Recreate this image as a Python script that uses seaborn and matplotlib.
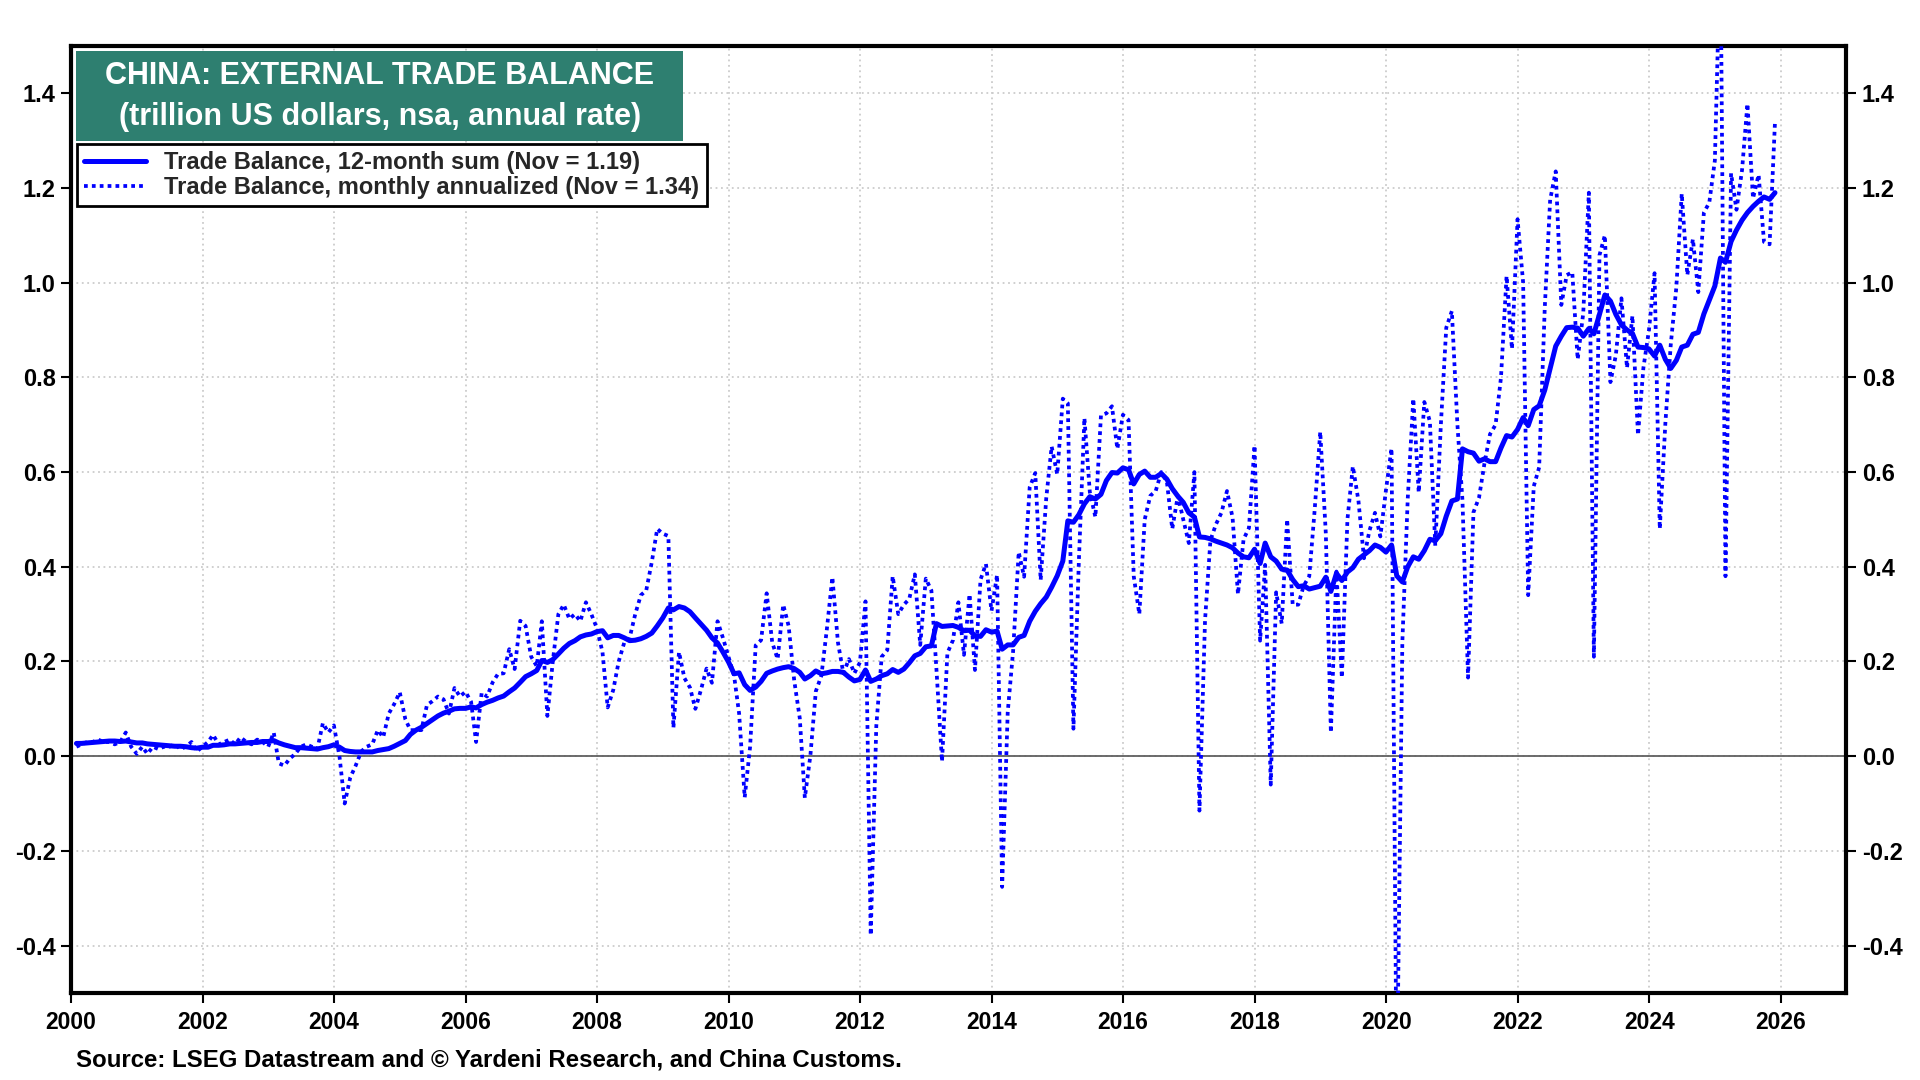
import numpy as np
import pandas as pd
import matplotlib
matplotlib.use("Agg")
import matplotlib.pyplot as plt
import matplotlib.dates as mdates
from matplotlib.patches import Rectangle
from matplotlib.ticker import FuncFormatter, FixedLocator
import seaborn as sns

# ---------------- data (trillion US dollars, annual rate) ----------------
# Monthly trade balance, annualized, Jan 2000 .. Nov 2025
monthly_annualized = [
    0.020, 0.025, 0.030, 0.030, 0.035, 0.030, 0.030, 0.025, 0.030, 0.050, 0.020, 0.005,   # 2000
    0.020, 0.005, 0.020, 0.015, 0.020, 0.020, 0.025, 0.015, 0.020, 0.030, 0.010, 0.020,   # 2001
    0.030, 0.045, 0.025, 0.030, 0.035, 0.025, 0.040, 0.030, 0.025, 0.035, 0.030, 0.020,   # 2002
    0.050, -0.015, -0.020, -0.005, 0.005, 0.020, 0.025, 0.020, 0.015, 0.070, 0.050, 0.065,  # 2003
    0.000, -0.100, -0.045, -0.020, 0.010, 0.020, 0.025, 0.055, 0.040, 0.090, 0.110, 0.135,  # 2004
    0.078, 0.055, 0.055, 0.055, 0.108, 0.116, 0.126, 0.120, 0.090, 0.144, 0.126, 0.136,   # 2005
    0.115, 0.030, 0.134, 0.126, 0.156, 0.174, 0.175, 0.226, 0.184, 0.286, 0.275, 0.210,   # 2006
    0.190, 0.285, 0.085, 0.200, 0.300, 0.320, 0.290, 0.300, 0.285, 0.325, 0.300, 0.270,   # 2007
    0.220, 0.103, 0.140, 0.200, 0.240, 0.250, 0.300, 0.340, 0.350, 0.410, 0.480, 0.470,   # 2008
    0.465, 0.060, 0.220, 0.165, 0.145, 0.100, 0.140, 0.185, 0.155, 0.285, 0.250, 0.210,   # 2009
    0.170, 0.090, -0.087, 0.020, 0.234, 0.245, 0.344, 0.240, 0.205, 0.320, 0.275, 0.160,  # 2010
    0.080, -0.088, 0.002, 0.137, 0.170, 0.267, 0.378, 0.240, 0.175, 0.205, 0.175, 0.198,  # 2011
    0.327, -0.378, 0.064, 0.210, 0.224, 0.380, 0.300, 0.320, 0.332, 0.384, 0.235, 0.375,  # 2012
    0.350, 0.184, -0.011, 0.218, 0.245, 0.325, 0.214, 0.342, 0.182, 0.373, 0.406, 0.307,  # 2013
    0.383, -0.276, 0.093, 0.222, 0.431, 0.379, 0.568, 0.598, 0.372, 0.545, 0.654, 0.595,  # 2014
    0.755, 0.745, 0.058, 0.410, 0.714, 0.558, 0.505, 0.720, 0.724, 0.739, 0.649, 0.721,   # 2015
    0.710, 0.380, 0.300, 0.500, 0.550, 0.560, 0.600, 0.580, 0.480, 0.550, 0.500, 0.450,   # 2016
    0.600, -0.115, 0.287, 0.456, 0.490, 0.514, 0.560, 0.504, 0.342, 0.458, 0.482, 0.656,  # 2017
    0.244, 0.404, -0.060, 0.346, 0.280, 0.500, 0.320, 0.320, 0.360, 0.380, 0.520, 0.685,  # 2018
    0.470, 0.050, 0.390, 0.166, 0.500, 0.612, 0.540, 0.418, 0.476, 0.514, 0.464, 0.562,   # 2019
    0.650, -0.730, 0.240, 0.544, 0.755, 0.557, 0.748, 0.707, 0.444, 0.700, 0.905, 0.940,  # 2020
    0.700, 0.540, 0.166, 0.515, 0.546, 0.618, 0.680, 0.700, 0.800, 1.014, 0.860, 1.134,   # 2021
    1.000, 0.340, 0.570, 0.610, 0.946, 1.175, 1.235, 0.953, 1.016, 1.022, 0.838, 0.936,   # 2022
    1.190, 0.210, 1.058, 1.100, 0.790, 0.847, 0.967, 0.820, 0.930, 0.678, 0.820, 0.900,   # 2023
    1.020, 0.480, 0.703, 0.869, 0.990, 1.188, 1.016, 1.092, 0.980, 1.148, 1.169, 1.258,   # 2024
    1.720, 0.380, 1.231, 1.154, 1.238, 1.378, 1.178, 1.228, 1.086, 1.081, 1.340,          # 2025
]

# 12-month sum, Jan 2000 .. Nov 2025
sum_12m = [
    0.027, 0.027, 0.028, 0.029, 0.030, 0.031, 0.032, 0.032, 0.031, 0.032, 0.030, 0.028,   # 2000
    0.028, 0.026, 0.025, 0.024, 0.023, 0.022, 0.021, 0.021, 0.020, 0.018, 0.017, 0.019,   # 2001
    0.019, 0.023, 0.023, 0.024, 0.026, 0.026, 0.027, 0.028, 0.029, 0.029, 0.031, 0.031,   # 2002
    0.033, 0.028, 0.024, 0.021, 0.018, 0.018, 0.017, 0.016, 0.015, 0.018, 0.020, 0.024,   # 2003
    0.019, 0.012, 0.010, 0.009, 0.009, 0.009, 0.009, 0.012, 0.014, 0.016, 0.021, 0.027,   # 2004
    0.033, 0.046, 0.055, 0.061, 0.069, 0.077, 0.085, 0.091, 0.095, 0.100, 0.101, 0.101,   # 2005
    0.104, 0.102, 0.109, 0.114, 0.118, 0.123, 0.127, 0.136, 0.144, 0.156, 0.168, 0.174,   # 2006
    0.181, 0.202, 0.198, 0.204, 0.216, 0.228, 0.238, 0.244, 0.252, 0.256, 0.258, 0.263,   # 2007
    0.265, 0.250, 0.255, 0.255, 0.250, 0.244, 0.245, 0.248, 0.253, 0.260, 0.275, 0.292,   # 2008
    0.313, 0.309, 0.316, 0.313, 0.305, 0.292, 0.279, 0.266, 0.250, 0.239, 0.220, 0.199,   # 2009
    0.174, 0.176, 0.151, 0.139, 0.146, 0.158, 0.175, 0.180, 0.184, 0.187, 0.189, 0.185,   # 2010
    0.177, 0.163, 0.170, 0.180, 0.174, 0.176, 0.179, 0.179, 0.177, 0.167, 0.159, 0.162,   # 2011
    0.182, 0.158, 0.163, 0.170, 0.174, 0.183, 0.177, 0.184, 0.197, 0.212, 0.217, 0.231,   # 2012
    0.233, 0.280, 0.274, 0.275, 0.276, 0.272, 0.265, 0.266, 0.254, 0.253, 0.267, 0.262,   # 2013
    0.264, 0.226, 0.235, 0.235, 0.251, 0.255, 0.285, 0.306, 0.322, 0.336, 0.357, 0.381,   # 2014
    0.412, 0.497, 0.494, 0.510, 0.533, 0.548, 0.543, 0.553, 0.582, 0.599, 0.598, 0.609,   # 2015
    0.605, 0.575, 0.595, 0.602, 0.589, 0.589, 0.597, 0.585, 0.565, 0.549, 0.536, 0.514,   # 2016
    0.505, 0.463, 0.462, 0.459, 0.454, 0.450, 0.446, 0.440, 0.429, 0.421, 0.419, 0.437,   # 2017
    0.407, 0.450, 0.421, 0.412, 0.395, 0.393, 0.373, 0.358, 0.360, 0.353, 0.356, 0.359,   # 2018
    0.378, 0.348, 0.386, 0.371, 0.389, 0.398, 0.416, 0.425, 0.434, 0.446, 0.441, 0.431,   # 2019
    0.446, 0.381, 0.368, 0.400, 0.421, 0.416, 0.434, 0.458, 0.455, 0.470, 0.507, 0.539,   # 2020
    0.543, 0.649, 0.643, 0.640, 0.623, 0.628, 0.622, 0.622, 0.651, 0.677, 0.674, 0.690,   # 2021
    0.715, 0.698, 0.732, 0.740, 0.773, 0.819, 0.866, 0.887, 0.905, 0.906, 0.904, 0.887,   # 2022
    0.903, 0.892, 0.933, 0.974, 0.961, 0.933, 0.911, 0.900, 0.893, 0.864, 0.863, 0.860,   # 2023
    0.845, 0.868, 0.838, 0.819, 0.836, 0.864, 0.868, 0.891, 0.895, 0.934, 0.963, 0.993,   # 2024
    1.052, 1.043, 1.087, 1.111, 1.132, 1.148, 1.161, 1.172, 1.181, 1.176, 1.190,          # 2025
]

first_month_end = "2000-01-31"
y_ticks = [-0.4, -0.2, 0.0, 0.2, 0.4, 0.6, 0.8, 1.0, 1.2, 1.4]
x_tick_years = list(range(2000, 2027, 2))

title_lines = ["CHINA: EXTERNAL TRADE BALANCE", "(trillion US dollars, nsa, annual rate)"]
legend_labels = ["Trade Balance, 12-month sum (Nov = 1.19)",
                 "Trade Balance, monthly annualized (Nov = 1.34)"]
source_text = "Source: LSEG Datastream and \u00a9 Yardeni Research, and China Customs."

# ---------------- figure ----------------
sns.set_theme(style="white")
plt.rcParams['font.family'] = ['Liberation Sans', 'DejaVu Sans']
plt.rcParams['font.weight'] = 'bold'

dates = pd.date_range(first_month_end, periods=len(monthly_annualized), freq="ME")
df = pd.DataFrame({"date": dates, "monthly": monthly_annualized, "sum12": sum_12m})

fig = plt.figure(figsize=(19.2, 10.8), dpi=100)
fig.patch.set_facecolor("white")
ax = fig.add_axes([0.037, 0.0806, 0.9247, 0.8769])

BLUE = "#0000ff"
sns.lineplot(data=df, x="date", y="sum12", ax=ax, color=BLUE, lw=3.6,
             label=legend_labels[0], zorder=4)
sns.lineplot(data=df, x="date", y="monthly", ax=ax, color=BLUE, lw=2.7,
             linestyle=(0, (1, 1.1)), label=legend_labels[1], zorder=3)

ax.set_xlim(pd.Timestamp("2000-01-01"), pd.Timestamp("2027-01-01"))
ax.set_ylim(-0.5, 1.5)

ax.xaxis.set_major_locator(FixedLocator([mdates.date2num(pd.Timestamp(f"{y}-01-01")) for y in x_tick_years]))
ax.xaxis.set_major_formatter(FuncFormatter(lambda v, p: mdates.num2date(v).strftime("%Y")))
ax.yaxis.set_major_locator(FixedLocator(y_ticks))
ax.yaxis.set_major_formatter(FuncFormatter(lambda v, p: f"{v:.1f}"))

ax.set_xlabel("")
ax.set_ylabel("")

ax.grid(True, which="major", color="#cccccc", linestyle=(0, (1, 2)), lw=1.3, zorder=0)
ax.set_axisbelow(True)
ax.axhline(0, color="#606060", lw=1.3, zorder=2)

for s in ax.spines.values():
    s.set_visible(True)
    s.set_color("black")
    s.set_linewidth(3)

ax.tick_params(axis="y", which="major", left=True, right=True, labelleft=True, labelright=True,
               direction="out", length=7, width=1.5, labelsize=17, pad=4, colors="black")
ax.tick_params(axis="x", which="major", bottom=True, direction="out", length=7, width=1.5,
               labelsize=16.5, pad=6, colors="black")
for lab in ax.get_xticklabels() + ax.get_yticklabels():
    lab.set_fontweight("bold")
for lab in ax.yaxis.get_ticklabels(which="both"):
    lab.set_fontweight("bold")

# title box
ax.add_patch(Rectangle((0.0028, 0.900), 0.342, 0.095, transform=ax.transAxes,
                       facecolor="#2e7f70", edgecolor="none", zorder=6))
ax.text(0.1738, 0.968, title_lines[0], transform=ax.transAxes, ha="center", va="center",
        color="white", fontsize=22, fontweight="bold", zorder=7)
ax.text(0.1738, 0.925, title_lines[1], transform=ax.transAxes, ha="center", va="center",
        color="white", fontsize=22, fontweight="bold", zorder=7)

leg = ax.legend(loc="upper left", bbox_to_anchor=(0.0034, 0.8965), borderaxespad=0,
                frameon=True, fancybox=False, framealpha=1, edgecolor="black",
                handlelength=2.6, handletextpad=0.8, labelspacing=0.1,
                borderpad=0.3, prop={"weight": "bold", "size": 17})
leg.get_frame().set_linewidth(2)
leg.set_zorder(8)

fig.text(0.0396, 0.0185, source_text, ha="left", va="center", fontsize=17.3,
         fontweight="bold", color="black")

fig.savefig("out.png", dpi=100, facecolor="white")
